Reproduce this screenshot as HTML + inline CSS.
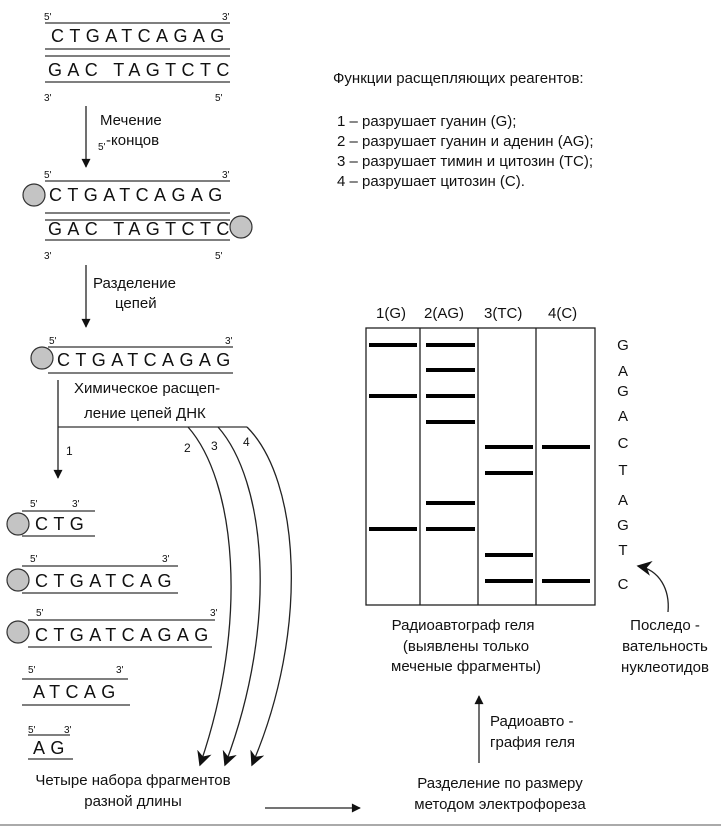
<!DOCTYPE html>
<html><head><meta charset="utf-8"><style>
html,body{margin:0;padding:0;background:#fff}
svg{display:block}
text{font-family:"Liberation Sans",sans-serif;fill:#111}
.s{font-size:18px;letter-spacing:5.4px}
.t{font-size:15px}
.p{font-size:10px}
</style></head><body>
<svg width="721" height="827" viewBox="0 0 721 827" xmlns="http://www.w3.org/2000/svg">
<defs>
<marker id="a" viewBox="0 0 10 10" refX="9" refY="5" markerWidth="13" markerHeight="9" orient="auto-start-reverse" markerUnits="userSpaceOnUse"><path d="M0,0 L10,5 L0,10 z" fill="#111"/></marker>
<marker id="b" viewBox="0 0 10 10" refX="9" refY="5" markerWidth="18" markerHeight="15" orient="auto" markerUnits="userSpaceOnUse"><path d="M0,0 L10,5 L0,10 L3,5 z" fill="#111"/></marker>
</defs>
<g stroke="#333" stroke-width="1.3" fill="none">
<line x1="45" y1="23" x2="230" y2="23"/><line x1="45" y1="49" x2="230" y2="49"/>
<line x1="45" y1="56" x2="230" y2="56"/><line x1="45" y1="82" x2="230" y2="82"/>
<line x1="45" y1="181" x2="230" y2="181"/><line x1="45" y1="213" x2="230" y2="213"/>
<line x1="45" y1="220" x2="230" y2="220"/><line x1="45" y1="240" x2="230" y2="240"/>
<line x1="48" y1="347" x2="233" y2="347"/><line x1="48" y1="373" x2="233" y2="373"/>
<line x1="22" y1="511" x2="95" y2="511"/><line x1="22" y1="536" x2="95" y2="536"/>
<line x1="22" y1="566" x2="178" y2="566"/><line x1="22" y1="593" x2="178" y2="593"/>
<line x1="28" y1="620" x2="215" y2="620"/><line x1="28" y1="647" x2="212" y2="647"/>
<line x1="22" y1="679" x2="128" y2="679"/><line x1="22" y1="705" x2="130" y2="705"/>
<line x1="28" y1="735" x2="70" y2="735"/><line x1="28" y1="759" x2="73" y2="759"/>
<line x1="58" y1="427" x2="247" y2="427"/>
</g>
<g stroke="#222" stroke-width="1.3" fill="none">
<line x1="86" y1="106" x2="86" y2="167" marker-end="url(#a)"/>
<line x1="86" y1="265" x2="86" y2="327" marker-end="url(#a)"/>
<line x1="58" y1="380" x2="58" y2="478" marker-end="url(#a)"/>
<path d="M188,427 C235,480 250,620 200,765" marker-end="url(#b)"/>
<path d="M218,427 C265,480 280,620 225,765" marker-end="url(#b)"/>
<path d="M247,427 C300,480 310,630 252,765" marker-end="url(#b)"/>
<line x1="265" y1="808" x2="360" y2="808" marker-end="url(#a)"/>
<line x1="479" y1="763" x2="479" y2="696" marker-end="url(#a)"/>
<path d="M668,612 C670,590 660,570 638,566" marker-end="url(#b)"/>
</g>
<g fill="#c4c4c4" stroke="#333" stroke-width="1.2">
<circle cx="34" cy="195" r="11"/><circle cx="241" cy="227" r="11"/>
<circle cx="42" cy="358" r="11"/><circle cx="18" cy="524" r="11"/>
<circle cx="18" cy="580" r="11"/><circle cx="18" cy="632" r="11"/>
</g>
<g class="p">
<text x="44" y="20">5'</text><text x="222" y="20">3'</text>
<text x="44" y="101">3'</text><text x="215" y="101">5'</text>
<text x="44" y="178">5'</text><text x="222" y="178">3'</text>
<text x="44" y="259">3'</text><text x="215" y="259">5'</text>
<text x="49" y="344">5'</text><text x="225" y="344">3'</text>
<text x="30" y="507">5'</text><text x="72" y="507">3'</text>
<text x="30" y="562">5'</text><text x="162" y="562">3'</text>
<text x="36" y="616">5'</text><text x="210" y="616">3'</text>
<text x="28" y="673">5'</text><text x="116" y="673">3'</text>
<text x="28" y="733">5'</text><text x="64" y="733">3'</text>
<text x="98" y="150">5'</text>
</g>
<g class="s">
<text x="51" y="42">CTGATCAGAG</text>
<text x="48" y="76">GAC TAGTCTC</text>
<text x="49" y="201">CTGATCAGAG</text>
<text x="48" y="235">GAC TAGTCTC</text>
<text x="57" y="366">CTGATCAGAG</text>
<text x="35" y="530">CTG</text>
<text x="35" y="587">CTGATCAG</text>
<text x="35" y="641">CTGATCAGAG</text>
<text x="33" y="698">ATCAG</text>
<text x="33" y="754">AG</text>
</g>
<g class="t">
<text x="100" y="125">Мечение</text>
<text x="106" y="145">-концов</text>
<text x="93" y="288">Разделение</text>
<text x="115" y="308">цепей</text>
<text x="74" y="393">Химическое расщеп-</text>
<text x="84" y="418">ление цепей ДНК</text>
<text x="133" y="785" text-anchor="middle">Четыре набора фрагментов</text>
<text x="133" y="806" text-anchor="middle">разной длины</text>
<text x="500" y="788" text-anchor="middle">Разделение по размеру</text>
<text x="500" y="809" text-anchor="middle">методом электрофореза</text>
<text x="490" y="726">Радиоавто -</text>
<text x="490" y="747">графия геля</text>
<text x="463" y="630" text-anchor="middle">Радиоавтограф геля</text>
<text x="466" y="651" text-anchor="middle">(выявлены только</text>
<text x="466" y="671" text-anchor="middle">меченые фрагменты)</text>
<text x="665" y="630" text-anchor="middle">Последо -</text>
<text x="665" y="651" text-anchor="middle">вательность</text>
<text x="665" y="672" text-anchor="middle">нуклеотидов</text>
<text x="333" y="83">Функции расщепляющих реагентов:</text>
<text x="337" y="126">1 – разрушает гуанин (G);</text>
<text x="337" y="146">2 – разрушает гуанин и аденин (AG);</text>
<text x="337" y="166">3 – разрушает тимин и цитозин (TC);</text>
<text x="337" y="186">4 – разрушает цитозин (C).</text>
<text x="376" y="318">1(G)</text><text x="424" y="318">2(AG)</text>
<text x="484" y="318">3(TC)</text><text x="548" y="318">4(C)</text>
</g>
<g style="font-size:12px">
<text x="66" y="455">1</text><text x="184" y="452">2</text>
<text x="211" y="450">3</text><text x="243" y="446">4</text>
</g>
<g stroke="#222" stroke-width="1.3" fill="none">
<rect x="366" y="328" width="229" height="277"/>
<line x1="420" y1="328" x2="420" y2="605"/>
<line x1="478" y1="328" x2="478" y2="605"/>
<line x1="536" y1="328" x2="536" y2="605"/>
</g>
<g stroke="#000" stroke-width="4">
<line x1="369" y1="345" x2="417" y2="345"/><line x1="369" y1="396" x2="417" y2="396"/><line x1="369" y1="529" x2="417" y2="529"/>
<line x1="426" y1="345" x2="475" y2="345"/><line x1="426" y1="370" x2="475" y2="370"/><line x1="426" y1="396" x2="475" y2="396"/><line x1="426" y1="422" x2="475" y2="422"/><line x1="426" y1="503" x2="475" y2="503"/><line x1="426" y1="529" x2="475" y2="529"/>
<line x1="485" y1="447" x2="533" y2="447"/><line x1="485" y1="473" x2="533" y2="473"/><line x1="485" y1="555" x2="533" y2="555"/><line x1="485" y1="581" x2="533" y2="581"/>
<line x1="542" y1="447" x2="590" y2="447"/><line x1="542" y1="581" x2="590" y2="581"/>
</g>
<g class="t" text-anchor="middle">
<text x="623" y="350">G</text><text x="623" y="376">A</text><text x="623" y="396">G</text>
<text x="623" y="421">A</text><text x="623" y="448">C</text><text x="623" y="475">T</text>
<text x="623" y="505">A</text><text x="623" y="530">G</text><text x="623" y="555">T</text>
<text x="623" y="589">C</text>
</g>
<line x1="0" y1="825" x2="721" y2="825" stroke="#aaa" stroke-width="2"/>
</svg>
</body></html>
